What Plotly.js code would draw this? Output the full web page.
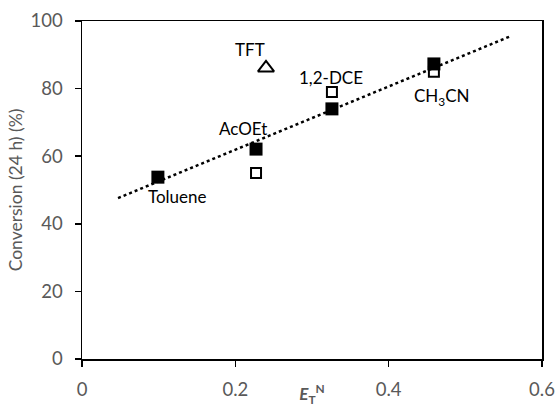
<!DOCTYPE html>
<html><head><meta charset="utf-8">
<script src="https://cdn.plot.ly/plotly-3.0.1.min.js"></script>
<style>html,body{margin:0;padding:0;background:#fff}</style>
</head><body>
<div id="chart" style="width:557px;height:407px"></div>
<script>
const solvents = ["Toluene", "AcOEt", "1,2-DCE", "CH<sub>3</sub>CN"];
const filledX = [0.099, 0.227, 0.326, 0.459];
const filledY = [53.8, 62.1, 74.0, 87.3];
const openX = [0.227, 0.326, 0.459];
const openY = [55.0, 79.0, 85.0];
const tftX = [0.240];
const tftY = [86.1];
const trendX = [0.047, 0.560];
const trendY = [47.6, 95.6];
const labelNames = ["TFT", "1,2-DCE", "AcOEt", "Toluene", "CH<sub>3</sub>CN"];
const labelX = [0.219, 0.325, 0.210, 0.124, 0.470];
const labelY = [91.5, 83.3, 68.3, 48.2, 77.5];
const xTicks = [0, 0.2, 0.4, 0.6];
const yTicks = [0, 20, 40, 60, 80, 100];

const FONT = "Lato, 'Open Sans', sans-serif";
const traces = [
  {x: trendX, y: trendY, mode: "lines", line: {color: "#000", width: 2.5, dash: "dot"}, hoverinfo: "skip"},
  {x: openX, y: openY, mode: "markers", marker: {symbol: "square-open", size: 10, color: "#000", line: {width: 2, color: "#000"}}},
  {x: tftX, y: tftY, mode: "markers", marker: {symbol: "triangle-up-open", size: 14, color: "#000", line: {width: 2, color: "#000"}}},
  {x: filledX, y: filledY, mode: "markers", marker: {symbol: "square", size: 13, color: "#000"}}
];
const annotations = labelNames.map((t, i) => ({
  x: labelX[i], y: labelY[i], xref: "x", yref: "y", text: t, showarrow: false,
  font: {family: FONT, size: 17, color: "#000"}
}));
const layout = {
  width: 557, height: 407,
  margin: {l: 82, r: 15, t: 21, b: 48},
  paper_bgcolor: "#fff", plot_bgcolor: "#fff",
  showlegend: false,
  font: {family: FONT, size: 17, color: "#595959"},
  xaxis: {
    range: [0, 0.6], tickvals: xTicks, ticktext: ["0", "0.2", "0.4", "0.6"],
    showgrid: false, zeroline: false, showline: true, linecolor: "#000", linewidth: 1.5, mirror: true,
    ticks: "outside", ticklen: 6, tickcolor: "#000", tickwidth: 1.5, ticklabelstandoff: 7,
    tickfont: {family: FONT, size: 18.5, color: "#595959"},
    title: {text: "<b><i>E</i></b><sub><b>T</b></sub><sup><b>N</b></sup>", font: {family: FONT, size: 17, color: "#595959"}, standoff: 2}
  },
  yaxis: {
    range: [0, 100], tickvals: yTicks,
    showgrid: false, zeroline: false, showline: true, linecolor: "#000", linewidth: 1.5, mirror: true,
    ticks: "outside", ticklen: 6, tickcolor: "#000", tickwidth: 1.5, ticklabelstandoff: 8,
    tickfont: {family: FONT, size: 18.5, color: "#595959"},
    title: {text: "Conversion (24 h) (%)", font: {family: FONT, size: 17.5, color: "#595959"}, standoff: 3}
  },
  annotations: annotations
};
Plotly.newPlot("chart", traces, layout, {displayModeBar: false, staticPlot: true});
</script>
</body></html>
